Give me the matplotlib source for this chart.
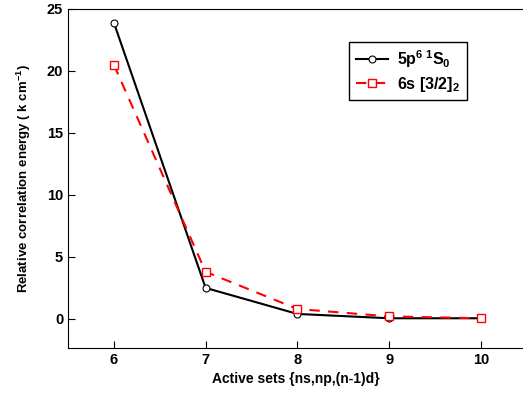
import matplotlib
matplotlib.use('Agg')
import matplotlib.pyplot as plt

plt.rcParams['font.family'] = 'Liberation Sans'
plt.rcParams['font.weight'] = 'bold'
plt.rcParams['axes.labelweight'] = 'bold'
plt.rcParams['mathtext.fontset'] = 'custom'
plt.rcParams['mathtext.rm'] = 'Liberation Sans:bold'
plt.rcParams['mathtext.it'] = 'Liberation Sans:bold'
plt.rcParams['mathtext.bf'] = 'Liberation Sans:bold'

active_sets = [6, 7, 8, 9, 10]
ground = [23.9, 2.5, 0.4, 0.05, 0.05]
excited = [20.5, 3.8, 0.8, 0.2, 0.05]

fig = plt.figure(figsize=(5.23, 3.98), dpi=100)
ax = fig.add_axes([0.130, 0.1256, 0.87, 0.8518])

ax.plot(active_sets, ground, color='black', lw=1.5, marker='o', ms=5,
        mfc='white', mec='black', mew=0.8, label=r'5p$^{6\ 1}$S$_0$')
ax.plot(active_sets, excited, color='red', lw=1.5, ls=(0, (5, 4)), marker='s', ms=6,
        mfc='white', mec='red', mew=1.0, label=r'6s [3/2]$_2$')

ax.set_xlim(5.5, 10.46)
ax.set_ylim(-2.35, 25)
ax.set_xticks(active_sets)
ax.set_yticks([0, 5, 10, 15, 20, 25])
ax.tick_params(direction='in', length=5, labelsize=10.5)
ax.spines['right'].set_visible(False)

ax.set_xlabel('Active sets {ns,np,(n-1)d}', fontsize=10, labelpad=4)
ax.set_ylabel(r'Relative correlation energy ( k cm$^{-1}$)', fontsize=9.5, labelpad=10)

leg = ax.legend(loc='upper left', bbox_to_anchor=(0.618, 0.903), fontsize=11.5,
                fancybox=False, edgecolor='black', framealpha=1, handlelength=2.0,
                borderpad=0.4, labelspacing=0.3, handletextpad=0.6, borderaxespad=0)
leg.get_frame().set_linewidth(1.0)

fig.savefig('out.png', dpi=100)
